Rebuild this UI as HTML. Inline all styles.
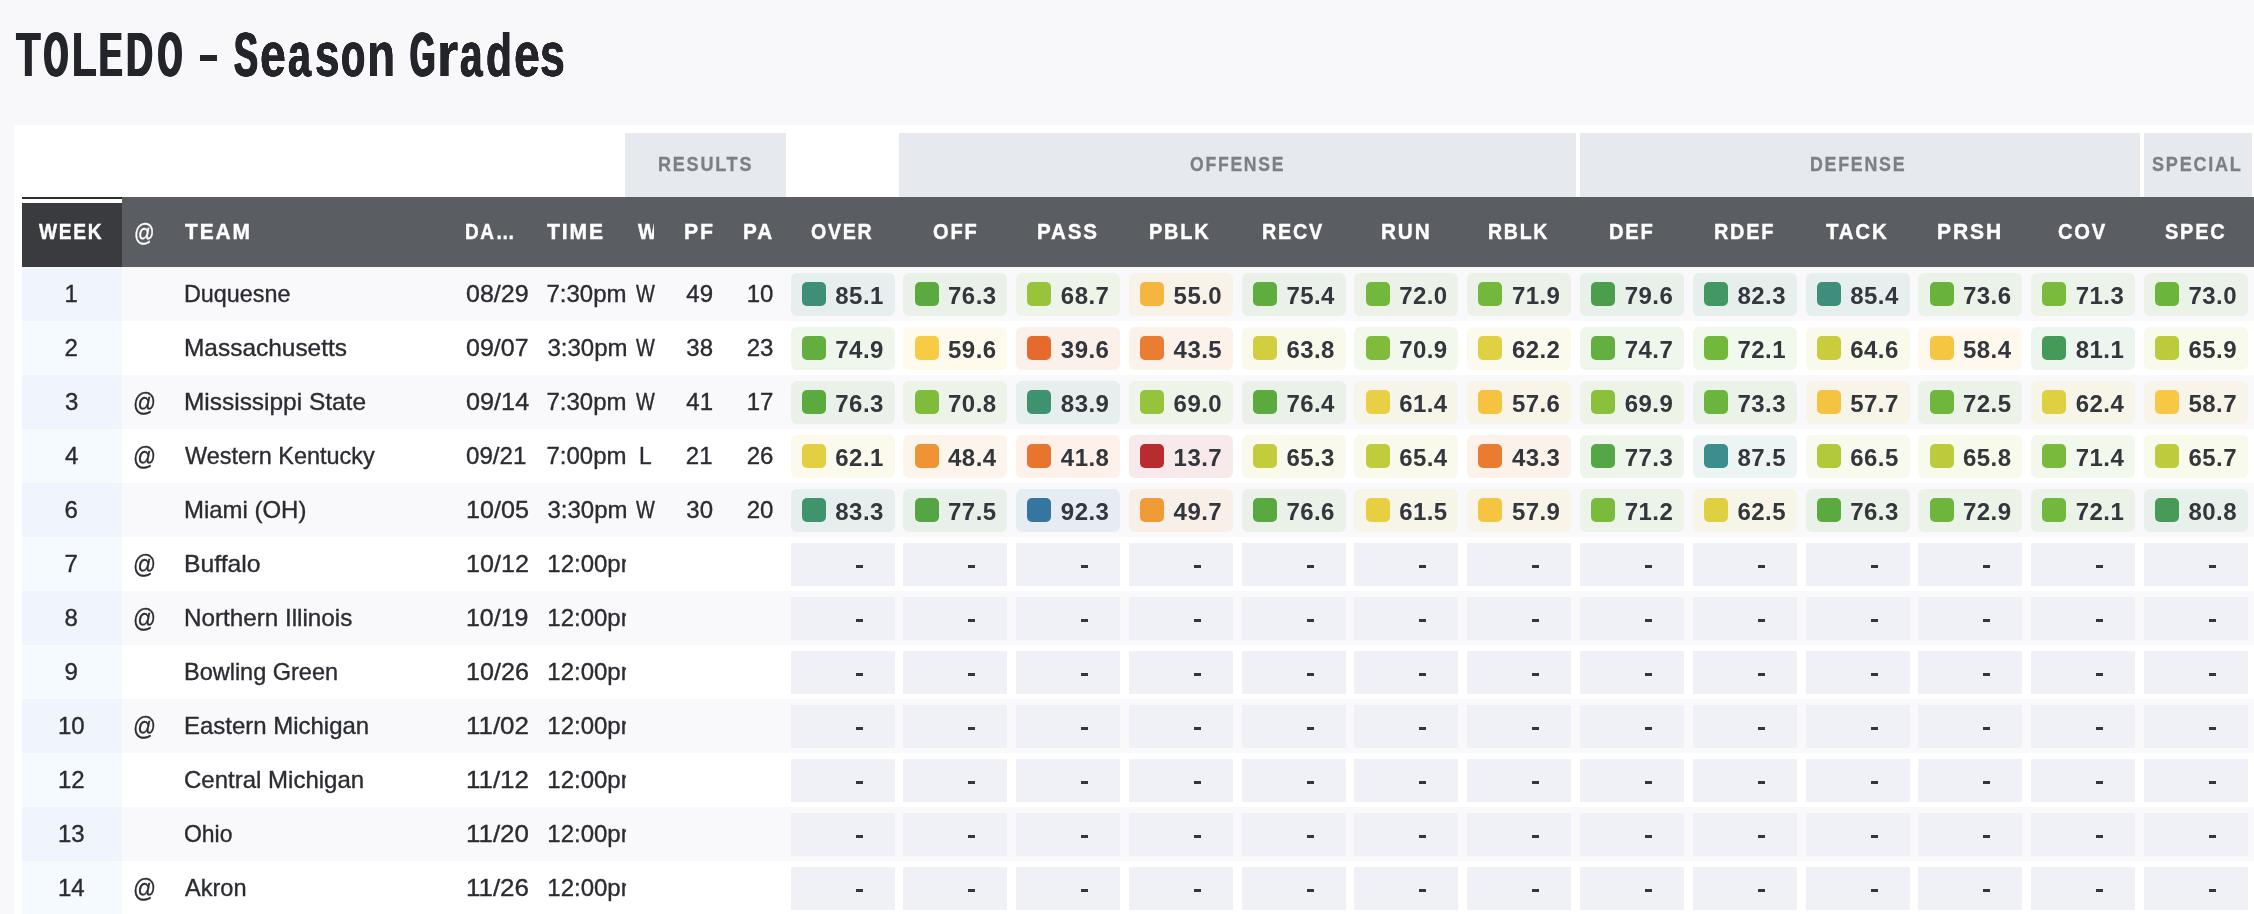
<!DOCTYPE html>
<html lang="en">
<head>
<meta charset="utf-8">
<title>TOLEDO - Season Grades</title>
<style>
*{box-sizing:border-box;margin:0;padding:0}
html,body{background:#f8f8fb}
body{position:relative;width:2254px;height:914px;font-family:"Liberation Sans", sans-serif;color:#2a2c31}
div,i,span{position:absolute}
#root{left:0;top:0;width:2254px;height:914px;overflow:hidden;background:#f8f8fb;will-change:transform}
.x{white-space:nowrap;transform-origin:0 0}
#title{position:absolute;left:0;top:14px;width:600px;height:80px;font-size:63px;line-height:80px;font-weight:bold;color:#23252b;white-space:nowrap}
.ttl{top:0;height:80px;transform-origin:0 77.7%}
.dash{left:199.8px;top:40.5px;width:17.1px;height:6.4px;background:#23252b;color:transparent;font-size:1px;line-height:1px;overflow:hidden}
#panel{left:14px;top:125px;width:2240px;height:789px;background:#fff}
.grp{top:133px;height:64px;background:#e6e9ee}
.gt{height:64px;line-height:64px;color:#7b8087;font-weight:bold;font-size:20.4px;letter-spacing:2px;-webkit-text-stroke:0.3px #7b8087}
#hdr{left:22px;top:197px;width:2232px;height:70px;background:#5a5d62}
.h{height:70px;line-height:70px;color:#fff;font-weight:bold;font-size:22.6px;letter-spacing:2px;-webkit-text-stroke:0.4px #fff}
.ha{height:70px;line-height:74px;color:#fff;font-size:23.5px;-webkit-text-stroke:0.3px #fff}
.row{left:22px;width:2232px;height:54px}
.wk{left:0;top:0;width:100px;height:54px}
.t{height:54px;line-height:54px;font-size:24px;-webkit-text-stroke:0.35px #2a2c31}
.a{height:54px;line-height:55px;font-size:26px;-webkit-text-stroke:0.3px #2a2c31}
.g{top:6px;width:104px;height:43px;border-radius:6px}
.e{top:6px;width:104px;height:43px;background:#f0f1f6}
.s{top:9px;width:24px;height:24px;border-radius:5px}
.n{top:0;height:43px;line-height:45px;font-size:24px;font-weight:bold;letter-spacing:0.45px;color:#33363c}
.d{top:22px;width:7px;height:3px;background:#33363c;color:transparent;font-size:1px;line-height:1px;overflow:hidden}
</style>
</head>
<body>
<div id="root">
<h1 id="title"><span class="ttl" style="left:16.34px;transform:scale(0.6376,1);text-shadow:0.84px 0 0 #23252b,-0.84px 0 0 #23252b,0.42px 0 0 #23252b,-0.42px 0 0 #23252b">T</span><span class="ttl" style="left:43.94px;transform:scale(0.4902,1);text-shadow:2.49px 0 0 #23252b,-2.49px 0 0 #23252b,1.25px 0 0 #23252b,-1.25px 0 0 #23252b">O</span><span class="ttl" style="left:72.25px;transform:scale(0.6414,1);text-shadow:0.81px 0 0 #23252b,-0.81px 0 0 #23252b,0.40px 0 0 #23252b,-0.40px 0 0 #23252b">L</span><span class="ttl" style="left:99.47px;transform:scale(0.5581,1);text-shadow:1.62px 0 0 #23252b,-1.62px 0 0 #23252b,0.81px 0 0 #23252b,-0.81px 0 0 #23252b">E</span><span class="ttl" style="left:126.44px;transform:scale(0.5960,1);text-shadow:1.22px 0 0 #23252b,-1.22px 0 0 #23252b,0.61px 0 0 #23252b,-0.61px 0 0 #23252b">D</span><span class="ttl" style="left:157.94px;transform:scale(0.4902,1);text-shadow:2.49px 0 0 #23252b,-2.49px 0 0 #23252b,1.25px 0 0 #23252b,-1.25px 0 0 #23252b">O</span> <span class="dash">-</span> <span class="ttl" style="left:234.09px;transform:scale(0.5690,1);text-shadow:1.50px 0 0 #23252b,-1.50px 0 0 #23252b,0.75px 0 0 #23252b,-0.75px 0 0 #23252b">S</span><span class="ttl" style="left:259.70px;transform:scale(0.7373,1);text-shadow:0.10px 0 0 #23252b,-0.10px 0 0 #23252b,0.05px 0 0 #23252b,-0.05px 0 0 #23252b">e</span><span class="ttl" style="left:287.51px;transform:scale(0.6537,1);text-shadow:0.70px 0 0 #23252b,-0.70px 0 0 #23252b,0.35px 0 0 #23252b,-0.35px 0 0 #23252b">a</span><span class="ttl" style="left:314.77px;transform:scale(0.6959,1);text-shadow:0.38px 0 0 #23252b,-0.38px 0 0 #23252b,0.19px 0 0 #23252b,-0.19px 0 0 #23252b">s</span><span class="ttl" style="left:341.31px;transform:scale(0.6304,1);text-shadow:0.90px 0 0 #23252b,-0.90px 0 0 #23252b,0.45px 0 0 #23252b,-0.45px 0 0 #23252b">o</span><span class="ttl" style="left:367.10px;transform:scale(0.7281,1);text-shadow:0.16px 0 0 #23252b,-0.16px 0 0 #23252b,0.08px 0 0 #23252b,-0.08px 0 0 #23252b">n</span> <span class="ttl" style="left:410.27px;transform:scale(0.5159,1);text-shadow:2.13px 0 0 #23252b,-2.13px 0 0 #23252b,1.07px 0 0 #23252b,-1.07px 0 0 #23252b">G</span><span class="ttl" style="left:437.46px;transform:scale(0.8598,1);text-shadow:0.00px 0 0 #23252b,-0.00px 0 0 #23252b,0.00px 0 0 #23252b,-0.00px 0 0 #23252b">r</span><span class="ttl" style="left:459.57px;transform:scale(0.6420,1);text-shadow:0.80px 0 0 #23252b,-0.80px 0 0 #23252b,0.40px 0 0 #23252b,-0.40px 0 0 #23252b">a</span><span class="ttl" style="left:486.01px;transform:scale(0.6751,0.975);text-shadow:0.53px 0 0 #23252b,-0.53px 0 0 #23252b,0.27px 0 0 #23252b,-0.27px 0 0 #23252b">d</span><span class="ttl" style="left:513.60px;transform:scale(0.7373,1);text-shadow:0.10px 0 0 #23252b,-0.10px 0 0 #23252b,0.05px 0 0 #23252b,-0.05px 0 0 #23252b">e</span><span class="ttl" style="left:540.48px;transform:scale(0.7097,1);text-shadow:0.28px 0 0 #23252b,-0.28px 0 0 #23252b,0.14px 0 0 #23252b,-0.14px 0 0 #23252b">s</span></h1>
<div id="panel"></div>
<div class="grp" style="left:625px;width:161px"></div>
<div class="x gt" style="left:658.12px;top:132px;transform:scale(0.88420,1.0);">RESULTS</div>
<div class="grp" style="left:899px;width:677px"></div>
<div class="x gt" style="left:1190.20px;top:132px;transform:scale(0.86353,1.0);">OFFENSE</div>
<div class="grp" style="left:1580px;width:560px"></div>
<div class="x gt" style="left:1809.73px;top:132px;transform:scale(0.87342,1.0);">DEFENSE</div>
<div class="grp" style="left:2144px;width:108px"></div>
<div class="x gt" style="left:2151.70px;top:132px;transform:scale(0.88573,1.0);">SPECIAL</div>
<div id="hdr"></div>
<div style="left:22px;top:197px;width:100px;height:70px;background:#3a3b3f"></div>
<div style="left:22px;top:197px;width:100px;height:2px;background:#2c2d31"></div>
<div style="left:22px;top:199px;width:100px;height:4px;background:#fff"></div>
<div class="x h" style="left:39.20px;top:196.6px;transform:scale(0.85007,1.0);">WEEK</div>
<div class="x h" style="left:184.70px;top:196.6px;transform:scale(0.92791,1.0);">TEAM</div>
<div class="x h" style="left:547.30px;top:196.6px;transform:scale(0.93323,1.0);">TIME</div>
<div class="x h" style="left:683.76px;top:196.6px;transform:scale(0.93912,1.0);">PF</div>
<div class="x h" style="left:743.38px;top:196.6px;transform:scale(0.91799,1.0);">PA</div>
<div class="x h" style="left:465.16px;top:196.6px;transform:scale(0.83873,1.0);">DA&hellip;</div>
<div class="x ha" style="left:134.14px;top:196.0px;transform:scale(0.86190,1.0);">@</div>
<div style="left:637px;top:197px;width:16.7px;height:70px;overflow:hidden"><div class="x h" style="left:0.70px;top:-0.4px;transform:scale(0.89000,1.0)">W</div></div>
<div class="x h" style="left:811.35px;top:196.6px;transform:scale(0.86783,1.0);">OVER</div>
<div class="x h" style="left:932.87px;top:196.6px;transform:scale(0.88888,1.0);">OFF</div>
<div class="x h" style="left:1036.73px;top:196.6px;transform:scale(0.91079,1.0);">PASS</div>
<div class="x h" style="left:1149.37px;top:196.6px;transform:scale(0.88260,1.0);">PBLK</div>
<div class="x h" style="left:1262.15px;top:196.6px;transform:scale(0.87589,1.0);">RECV</div>
<div class="x h" style="left:1381.22px;top:196.6px;transform:scale(0.92035,1.0);">RUN</div>
<div class="x h" style="left:1487.75px;top:196.6px;transform:scale(0.86507,1.0);">RBLK</div>
<div class="x h" style="left:1608.94px;top:196.6px;transform:scale(0.89266,1.0);">DEF</div>
<div class="x h" style="left:1713.97px;top:196.6px;transform:scale(0.87972,1.0);">RDEF</div>
<div class="x h" style="left:1825.87px;top:196.6px;transform:scale(0.90471,1.0);">TACK</div>
<div class="x h" style="left:1937.36px;top:196.6px;transform:scale(0.93295,1.0);">PRSH</div>
<div class="x h" style="left:2058.46px;top:196.6px;transform:scale(0.89241,1.0);">COV</div>
<div class="x h" style="left:2165.08px;top:196.6px;transform:scale(0.88529,1.0);">SPEC</div>
<div class="row" style="top:267px;background:#f9f9fb">
<div class="wk" style="background:#eff4fd"></div>
<div class="x t" style="left:42.60px;top:0px;transform:scale(1.00000,1.0);">1</div>
<div class="x t" style="left:162.03px;top:0px;transform:scale(0.97252,1.0);">Duquesne</div>
<div class="x t" style="left:444.20px;top:0px;transform:scale(1.04169,1.0);">08/29</div>
<div style="left:518px;top:0;width:85.7px;height:54px;overflow:hidden"><div class="x t" style="left:6.50px;top:0;transform:scale(1.0,1.0)">7:30pm</div></div>
<div class="x t" style="left:613.70px;top:0px;transform:scale(0.83043,1.0);">W</div>
<div class="x t" style="left:664.33px;top:0px;transform:scale(1.00000,1.0);">49</div>
<div class="x t" style="left:724.65px;top:0px;transform:scale(1.00000,1.0);">10</div>
<div class="g" style="left:769px;background:#e6eeee"><i class="s" style="left:11px;background:#3e8e78"></i><span class="x n" style="left:44.30px;transform:scale(1.0)">85.1</span></div>
<div class="g" style="left:881px;background:#e9f1e8"><i class="s" style="left:12px;background:#5aaa40"></i><span class="x n" style="left:45.07px;transform:scale(1.0)">76.3</span></div>
<div class="g" style="left:994px;background:#eff4e8"><i class="s" style="left:11px;background:#98c43c"></i><span class="x n" style="left:44.84px;transform:scale(1.0)">68.7</span></div>
<div class="g" style="left:1107px;background:#f8f2e8"><i class="s" style="left:11px;background:#f4b63e"></i><span class="x n" style="left:44.61px;transform:scale(1.0)">55.0</span></div>
<div class="g" style="left:1220px;background:#eaf1e8"><i class="s" style="left:11px;background:#5fad3f"></i><span class="x n" style="left:44.38px;transform:scale(1.0)">75.4</span></div>
<div class="g" style="left:1332px;background:#ecf2e8"><i class="s" style="left:12px;background:#72b83c"></i><span class="x n" style="left:45.15px;transform:scale(1.0)">72.0</span></div>
<div class="g" style="left:1445px;background:#ecf2e8"><i class="s" style="left:11px;background:#73b83c"></i><span class="x n" style="left:44.91px;transform:scale(1.0)">71.9</span></div>
<div class="g" style="left:1558px;background:#e8f0ea"><i class="s" style="left:11px;background:#4a9e4c"></i><span class="x n" style="left:44.68px;transform:scale(1.0)">79.6</span></div>
<div class="g" style="left:1671px;background:#e7efec"><i class="s" style="left:11px;background:#439763"></i><span class="x n" style="left:44.45px;transform:scale(1.0)">82.3</span></div>
<div class="g" style="left:1784px;background:#e6eeee"><i class="s" style="left:11px;background:#3e8e7b"></i><span class="x n" style="left:44.22px;transform:scale(1.0)">85.4</span></div>
<div class="g" style="left:1896px;background:#ebf2e8"><i class="s" style="left:12px;background:#69b33d"></i><span class="x n" style="left:44.99px;transform:scale(1.0)">73.6</span></div>
<div class="g" style="left:2009px;background:#ecf3e8"><i class="s" style="left:11px;background:#7abb3c"></i><span class="x n" style="left:44.76px;transform:scale(1.0)">71.3</span></div>
<div class="g" style="left:2122px;background:#ebf2e8"><i class="s" style="left:11px;background:#6cb53d"></i><span class="x n" style="left:44.53px;transform:scale(1.0)">73.0</span></div>
</div>
<div class="row" style="top:321px;background:#ffffff">
<div class="wk" style="background:#f5fafe"></div>
<div class="x t" style="left:42.60px;top:0px;transform:scale(1.00000,1.0);">2</div>
<div class="x t" style="left:161.98px;top:0px;transform:scale(1.01844,1.0);">Massachusetts</div>
<div class="x t" style="left:444.20px;top:0px;transform:scale(1.04169,1.0);">09/07</div>
<div style="left:518px;top:0;width:85.7px;height:54px;overflow:hidden"><div class="x t" style="left:7.50px;top:0;transform:scale(1.0,1.0)">3:30pm</div></div>
<div class="x t" style="left:613.70px;top:0px;transform:scale(0.83043,1.0);">W</div>
<div class="x t" style="left:664.33px;top:0px;transform:scale(1.00000,1.0);">38</div>
<div class="x t" style="left:724.65px;top:0px;transform:scale(1.00000,1.0);">23</div>
<div class="g" style="left:769px;background:#eff7ec"><i class="s" style="left:11px;background:#62af3f"></i><span class="x n" style="left:44.30px;transform:scale(1.0)">74.9</span></div>
<div class="g" style="left:881px;background:#fefaec"><i class="s" style="left:12px;background:#f6cc44"></i><span class="x n" style="left:45.07px;transform:scale(1.0)">59.6</span></div>
<div class="g" style="left:994px;background:#fcf0ea"><i class="s" style="left:11px;background:#e66a2c"></i><span class="x n" style="left:44.84px;transform:scale(1.0)">39.6</span></div>
<div class="g" style="left:1107px;background:#fdf2ea"><i class="s" style="left:11px;background:#ea7d32"></i><span class="x n" style="left:44.61px;transform:scale(1.0)">43.5</span></div>
<div class="g" style="left:1220px;background:#fafaec"><i class="s" style="left:11px;background:#d1ce3f"></i><span class="x n" style="left:44.38px;transform:scale(1.0)">63.8</span></div>
<div class="g" style="left:1332px;background:#f2f8ec"><i class="s" style="left:12px;background:#7fbc3c"></i><span class="x n" style="left:45.15px;transform:scale(1.0)">70.9</span></div>
<div class="g" style="left:1445px;background:#fcfaec"><i class="s" style="left:11px;background:#e1d042"></i><span class="x n" style="left:44.91px;transform:scale(1.0)">62.2</span></div>
<div class="g" style="left:1558px;background:#eff7ec"><i class="s" style="left:11px;background:#63af3f"></i><span class="x n" style="left:44.68px;transform:scale(1.0)">74.7</span></div>
<div class="g" style="left:1671px;background:#f1f8ec"><i class="s" style="left:11px;background:#71b83c"></i><span class="x n" style="left:44.45px;transform:scale(1.0)">72.1</span></div>
<div class="g" style="left:1784px;background:#fafaec"><i class="s" style="left:11px;background:#c9cd3d"></i><span class="x n" style="left:44.22px;transform:scale(1.0)">64.6</span></div>
<div class="g" style="left:1896px;background:#fef9ec"><i class="s" style="left:12px;background:#f5c642"></i><span class="x n" style="left:44.99px;transform:scale(1.0)">58.4</span></div>
<div class="g" style="left:2009px;background:#ecf5ee"><i class="s" style="left:11px;background:#469a59"></i><span class="x n" style="left:44.76px;transform:scale(1.0)">81.1</span></div>
<div class="g" style="left:2122px;background:#f8faec"><i class="s" style="left:11px;background:#bbcb3c"></i><span class="x n" style="left:44.53px;transform:scale(1.0)">65.9</span></div>
</div>
<div class="row" style="top:375px;background:#f9f9fb">
<div class="wk" style="background:#eff4fd"></div>
<div class="x t" style="left:43.10px;top:0px;transform:scale(1.00000,1.0);">3</div>
<div class="x a" style="left:111.15px;top:0px;transform:scale(0.87391,1.0);">@</div>
<div class="x t" style="left:161.98px;top:0px;transform:scale(1.01818,1.0);">Mississippi State</div>
<div class="x t" style="left:444.20px;top:0px;transform:scale(1.05173,1.0);">09/14</div>
<div style="left:518px;top:0;width:85.7px;height:54px;overflow:hidden"><div class="x t" style="left:6.50px;top:0;transform:scale(1.0,1.0)">7:30pm</div></div>
<div class="x t" style="left:613.70px;top:0px;transform:scale(0.83043,1.0);">W</div>
<div class="x t" style="left:664.33px;top:0px;transform:scale(1.00000,1.0);">41</div>
<div class="x t" style="left:724.65px;top:0px;transform:scale(1.00000,1.0);">17</div>
<div class="g" style="left:769px;background:#e9f1e8"><i class="s" style="left:11px;background:#5aaa40"></i><span class="x n" style="left:44.30px;transform:scale(1.0)">76.3</span></div>
<div class="g" style="left:881px;background:#edf3e8"><i class="s" style="left:12px;background:#80bc3c"></i><span class="x n" style="left:45.07px;transform:scale(1.0)">70.8</span></div>
<div class="g" style="left:994px;background:#e6efed"><i class="s" style="left:11px;background:#3f9270"></i><span class="x n" style="left:44.84px;transform:scale(1.0)">83.9</span></div>
<div class="g" style="left:1107px;background:#eff4e8"><i class="s" style="left:11px;background:#95c33c"></i><span class="x n" style="left:44.61px;transform:scale(1.0)">69.0</span></div>
<div class="g" style="left:1220px;background:#e9f1e8"><i class="s" style="left:11px;background:#5aaa40"></i><span class="x n" style="left:44.38px;transform:scale(1.0)">76.4</span></div>
<div class="g" style="left:1332px;background:#f7f5e9"><i class="s" style="left:12px;background:#e8cf43"></i><span class="x n" style="left:45.15px;transform:scale(1.0)">61.4</span></div>
<div class="g" style="left:1445px;background:#f9f4e8"><i class="s" style="left:11px;background:#f5c241"></i><span class="x n" style="left:44.91px;transform:scale(1.0)">57.6</span></div>
<div class="g" style="left:1558px;background:#eef3e8"><i class="s" style="left:11px;background:#8ac03c"></i><span class="x n" style="left:44.68px;transform:scale(1.0)">69.9</span></div>
<div class="g" style="left:1671px;background:#ebf2e8"><i class="s" style="left:11px;background:#6bb43d"></i><span class="x n" style="left:44.45px;transform:scale(1.0)">73.3</span></div>
<div class="g" style="left:1784px;background:#f9f4e8"><i class="s" style="left:11px;background:#f5c342"></i><span class="x n" style="left:44.22px;transform:scale(1.0)">57.7</span></div>
<div class="g" style="left:1896px;background:#ebf2e8"><i class="s" style="left:12px;background:#6fb63c"></i><span class="x n" style="left:44.99px;transform:scale(1.0)">72.5</span></div>
<div class="g" style="left:2009px;background:#f6f5e8"><i class="s" style="left:11px;background:#dfd041"></i><span class="x n" style="left:44.76px;transform:scale(1.0)">62.4</span></div>
<div class="g" style="left:2122px;background:#f9f4e9"><i class="s" style="left:11px;background:#f6c843"></i><span class="x n" style="left:44.53px;transform:scale(1.0)">58.7</span></div>
</div>
<div class="row" style="top:429px;background:#ffffff">
<div class="wk" style="background:#f5fafe"></div>
<div class="x t" style="left:43.10px;top:0px;transform:scale(1.00000,1.0);">4</div>
<div class="x a" style="left:111.15px;top:0px;transform:scale(0.87391,1.0);">@</div>
<div class="x t" style="left:163.00px;top:0px;transform:scale(0.97628,1.0);">Western Kentucky</div>
<div class="x t" style="left:444.20px;top:0px;transform:scale(1.00484,1.0);">09/21</div>
<div style="left:518px;top:0;width:85.7px;height:54px;overflow:hidden"><div class="x t" style="left:6.50px;top:0;transform:scale(1.0,1.0)">7:00pm</div></div>
<div class="x t" style="left:616.65px;top:0px;transform:scale(0.95000,1.0);">L</div>
<div class="x t" style="left:663.83px;top:0px;transform:scale(1.00000,1.0);">21</div>
<div class="x t" style="left:724.65px;top:0px;transform:scale(1.00000,1.0);">26</div>
<div class="g" style="left:769px;background:#fcfaec"><i class="s" style="left:11px;background:#e2d042"></i><span class="x n" style="left:44.30px;transform:scale(1.0)">62.1</span></div>
<div class="g" style="left:881px;background:#fdf4eb"><i class="s" style="left:12px;background:#ee9436"></i><span class="x n" style="left:45.07px;transform:scale(1.0)">48.4</span></div>
<div class="g" style="left:994px;background:#fdf1ea"><i class="s" style="left:11px;background:#e8752f"></i><span class="x n" style="left:44.84px;transform:scale(1.0)">41.8</span></div>
<div class="g" style="left:1107px;background:#f8eaea"><i class="s" style="left:11px;background:#b82c30"></i><span class="x n" style="left:44.61px;transform:scale(1.0)">13.7</span></div>
<div class="g" style="left:1220px;background:#f9faec"><i class="s" style="left:11px;background:#c2cc3c"></i><span class="x n" style="left:44.38px;transform:scale(1.0)">65.3</span></div>
<div class="g" style="left:1332px;background:#f9faec"><i class="s" style="left:12px;background:#c1cc3c"></i><span class="x n" style="left:45.15px;transform:scale(1.0)">65.4</span></div>
<div class="g" style="left:1445px;background:#fdf2ea"><i class="s" style="left:11px;background:#ea7c32"></i><span class="x n" style="left:44.91px;transform:scale(1.0)">43.3</span></div>
<div class="g" style="left:1558px;background:#eef6ec"><i class="s" style="left:11px;background:#55a644"></i><span class="x n" style="left:44.68px;transform:scale(1.0)">77.3</span></div>
<div class="g" style="left:1671px;background:#ecf4f4"><i class="s" style="left:11px;background:#3c8e8c"></i><span class="x n" style="left:44.45px;transform:scale(1.0)">87.5</span></div>
<div class="g" style="left:1784px;background:#f7faec"><i class="s" style="left:11px;background:#b3c93c"></i><span class="x n" style="left:44.22px;transform:scale(1.0)">66.5</span></div>
<div class="g" style="left:1896px;background:#f8faec"><i class="s" style="left:12px;background:#bccb3c"></i><span class="x n" style="left:44.99px;transform:scale(1.0)">65.8</span></div>
<div class="g" style="left:2009px;background:#f2f8ec"><i class="s" style="left:11px;background:#79ba3c"></i><span class="x n" style="left:44.76px;transform:scale(1.0)">71.4</span></div>
<div class="g" style="left:2122px;background:#f8faec"><i class="s" style="left:11px;background:#bdcb3c"></i><span class="x n" style="left:44.53px;transform:scale(1.0)">65.7</span></div>
</div>
<div class="row" style="top:483px;background:#f9f9fb">
<div class="wk" style="background:#eff4fd"></div>
<div class="x t" style="left:42.60px;top:0px;transform:scale(1.00000,1.0);">6</div>
<div class="x t" style="left:162.00px;top:0px;transform:scale(0.99788,1.0);">Miami (OH)</div>
<div class="x t" style="left:444.45px;top:0px;transform:scale(1.04750,1.0);">10/05</div>
<div style="left:518px;top:0;width:85.7px;height:54px;overflow:hidden"><div class="x t" style="left:7.50px;top:0;transform:scale(1.0,1.0)">3:30pm</div></div>
<div class="x t" style="left:613.70px;top:0px;transform:scale(0.83043,1.0);">W</div>
<div class="x t" style="left:664.33px;top:0px;transform:scale(1.00000,1.0);">30</div>
<div class="x t" style="left:724.65px;top:0px;transform:scale(1.00000,1.0);">20</div>
<div class="g" style="left:769px;background:#e6efed"><i class="s" style="left:11px;background:#40946c"></i><span class="x n" style="left:44.30px;transform:scale(1.0)">83.3</span></div>
<div class="g" style="left:881px;background:#e8f1e9"><i class="s" style="left:12px;background:#54a644"></i><span class="x n" style="left:45.07px;transform:scale(1.0)">77.5</span></div>
<div class="g" style="left:994px;background:#e5ecf2"><i class="s" style="left:11px;background:#3476a0"></i><span class="x n" style="left:44.84px;transform:scale(1.0)">92.3</span></div>
<div class="g" style="left:1107px;background:#f8f0e8"><i class="s" style="left:11px;background:#ef9b38"></i><span class="x n" style="left:44.61px;transform:scale(1.0)">49.7</span></div>
<div class="g" style="left:1220px;background:#e9f1e8"><i class="s" style="left:11px;background:#59a941"></i><span class="x n" style="left:44.38px;transform:scale(1.0)">76.6</span></div>
<div class="g" style="left:1332px;background:#f7f5e8"><i class="s" style="left:12px;background:#e7cf42"></i><span class="x n" style="left:45.15px;transform:scale(1.0)">61.5</span></div>
<div class="g" style="left:1445px;background:#f9f4e8"><i class="s" style="left:11px;background:#f5c442"></i><span class="x n" style="left:44.91px;transform:scale(1.0)">57.9</span></div>
<div class="g" style="left:1558px;background:#ecf3e8"><i class="s" style="left:11px;background:#7bbb3c"></i><span class="x n" style="left:44.68px;transform:scale(1.0)">71.2</span></div>
<div class="g" style="left:1671px;background:#f6f5e8"><i class="s" style="left:11px;background:#ded041"></i><span class="x n" style="left:44.45px;transform:scale(1.0)">62.5</span></div>
<div class="g" style="left:1784px;background:#e9f1e8"><i class="s" style="left:11px;background:#5aaa40"></i><span class="x n" style="left:44.22px;transform:scale(1.0)">76.3</span></div>
<div class="g" style="left:1896px;background:#ebf2e8"><i class="s" style="left:12px;background:#6db53d"></i><span class="x n" style="left:44.99px;transform:scale(1.0)">72.9</span></div>
<div class="g" style="left:2009px;background:#ebf2e8"><i class="s" style="left:11px;background:#71b83c"></i><span class="x n" style="left:44.76px;transform:scale(1.0)">72.1</span></div>
<div class="g" style="left:2122px;background:#e7f0ea"><i class="s" style="left:11px;background:#479b56"></i><span class="x n" style="left:44.53px;transform:scale(1.0)">80.8</span></div>
</div>
<div class="row" style="top:537px;background:#ffffff">
<div class="wk" style="background:#f5fafe"></div>
<div class="x t" style="left:42.60px;top:0px;transform:scale(1.00000,1.0);">7</div>
<div class="x a" style="left:111.15px;top:0px;transform:scale(0.87391,1.0);">@</div>
<div class="x t" style="left:161.97px;top:0px;transform:scale(1.02965,1.0);">Buffalo</div>
<div class="x t" style="left:444.45px;top:0px;transform:scale(1.04750,1.0);">10/12</div>
<div style="left:518px;top:0;width:85.7px;height:54px;overflow:hidden"><div class="x t" style="left:7.30px;top:0;transform:scale(1.0,1.0)">12:00pm</div></div>
<div class="e" style="left:769px"><i class="d" style="left:64.60px">-</i></div>
<div class="e" style="left:881px"><i class="d" style="left:65.37px">-</i></div>
<div class="e" style="left:994px"><i class="d" style="left:65.14px">-</i></div>
<div class="e" style="left:1107px"><i class="d" style="left:64.91px">-</i></div>
<div class="e" style="left:1220px"><i class="d" style="left:64.68px">-</i></div>
<div class="e" style="left:1332px"><i class="d" style="left:65.45px">-</i></div>
<div class="e" style="left:1445px"><i class="d" style="left:65.21px">-</i></div>
<div class="e" style="left:1558px"><i class="d" style="left:64.98px">-</i></div>
<div class="e" style="left:1671px"><i class="d" style="left:64.75px">-</i></div>
<div class="e" style="left:1784px"><i class="d" style="left:64.52px">-</i></div>
<div class="e" style="left:1896px"><i class="d" style="left:65.29px">-</i></div>
<div class="e" style="left:2009px"><i class="d" style="left:65.06px">-</i></div>
<div class="e" style="left:2122px"><i class="d" style="left:64.83px">-</i></div>
</div>
<div class="row" style="top:591px;background:#f9f9fb">
<div class="wk" style="background:#eff4fd"></div>
<div class="x t" style="left:42.60px;top:0px;transform:scale(1.00000,1.0);">8</div>
<div class="x a" style="left:111.15px;top:0px;transform:scale(0.87391,1.0);">@</div>
<div class="x t" style="left:161.99px;top:0px;transform:scale(1.00945,1.0);">Northern Illinois</div>
<div class="x t" style="left:444.46px;top:0px;transform:scale(1.03899,1.0);">10/19</div>
<div style="left:518px;top:0;width:85.7px;height:54px;overflow:hidden"><div class="x t" style="left:7.30px;top:0;transform:scale(1.0,1.0)">12:00pm</div></div>
<div class="e" style="left:769px"><i class="d" style="left:64.60px">-</i></div>
<div class="e" style="left:881px"><i class="d" style="left:65.37px">-</i></div>
<div class="e" style="left:994px"><i class="d" style="left:65.14px">-</i></div>
<div class="e" style="left:1107px"><i class="d" style="left:64.91px">-</i></div>
<div class="e" style="left:1220px"><i class="d" style="left:64.68px">-</i></div>
<div class="e" style="left:1332px"><i class="d" style="left:65.45px">-</i></div>
<div class="e" style="left:1445px"><i class="d" style="left:65.21px">-</i></div>
<div class="e" style="left:1558px"><i class="d" style="left:64.98px">-</i></div>
<div class="e" style="left:1671px"><i class="d" style="left:64.75px">-</i></div>
<div class="e" style="left:1784px"><i class="d" style="left:64.52px">-</i></div>
<div class="e" style="left:1896px"><i class="d" style="left:65.29px">-</i></div>
<div class="e" style="left:2009px"><i class="d" style="left:65.06px">-</i></div>
<div class="e" style="left:2122px"><i class="d" style="left:64.83px">-</i></div>
</div>
<div class="row" style="top:645px;background:#ffffff">
<div class="wk" style="background:#f5fafe"></div>
<div class="x t" style="left:42.60px;top:0px;transform:scale(1.00000,1.0);">9</div>
<div class="x t" style="left:162.02px;top:0px;transform:scale(0.97827,1.0);">Bowling Green</div>
<div class="x t" style="left:444.45px;top:0px;transform:scale(1.04750,1.0);">10/26</div>
<div style="left:518px;top:0;width:85.7px;height:54px;overflow:hidden"><div class="x t" style="left:7.30px;top:0;transform:scale(1.0,1.0)">12:00pm</div></div>
<div class="e" style="left:769px"><i class="d" style="left:64.60px">-</i></div>
<div class="e" style="left:881px"><i class="d" style="left:65.37px">-</i></div>
<div class="e" style="left:994px"><i class="d" style="left:65.14px">-</i></div>
<div class="e" style="left:1107px"><i class="d" style="left:64.91px">-</i></div>
<div class="e" style="left:1220px"><i class="d" style="left:64.68px">-</i></div>
<div class="e" style="left:1332px"><i class="d" style="left:65.45px">-</i></div>
<div class="e" style="left:1445px"><i class="d" style="left:65.21px">-</i></div>
<div class="e" style="left:1558px"><i class="d" style="left:64.98px">-</i></div>
<div class="e" style="left:1671px"><i class="d" style="left:64.75px">-</i></div>
<div class="e" style="left:1784px"><i class="d" style="left:64.52px">-</i></div>
<div class="e" style="left:1896px"><i class="d" style="left:65.29px">-</i></div>
<div class="e" style="left:2009px"><i class="d" style="left:65.06px">-</i></div>
<div class="e" style="left:2122px"><i class="d" style="left:64.83px">-</i></div>
</div>
<div class="row" style="top:699px;background:#f9f9fb">
<div class="wk" style="background:#eff4fd"></div>
<div class="x t" style="left:35.93px;top:0px;transform:scale(1.00000,1.0);">10</div>
<div class="x a" style="left:111.15px;top:0px;transform:scale(0.87391,1.0);">@</div>
<div class="x t" style="left:162.00px;top:0px;transform:scale(0.99848,1.0);">Eastern Michigan</div>
<div class="x t" style="left:444.42px;top:0px;transform:scale(1.08028,1.0);">11/02</div>
<div style="left:518px;top:0;width:85.7px;height:54px;overflow:hidden"><div class="x t" style="left:7.30px;top:0;transform:scale(1.0,1.0)">12:00pm</div></div>
<div class="e" style="left:769px"><i class="d" style="left:64.60px">-</i></div>
<div class="e" style="left:881px"><i class="d" style="left:65.37px">-</i></div>
<div class="e" style="left:994px"><i class="d" style="left:65.14px">-</i></div>
<div class="e" style="left:1107px"><i class="d" style="left:64.91px">-</i></div>
<div class="e" style="left:1220px"><i class="d" style="left:64.68px">-</i></div>
<div class="e" style="left:1332px"><i class="d" style="left:65.45px">-</i></div>
<div class="e" style="left:1445px"><i class="d" style="left:65.21px">-</i></div>
<div class="e" style="left:1558px"><i class="d" style="left:64.98px">-</i></div>
<div class="e" style="left:1671px"><i class="d" style="left:64.75px">-</i></div>
<div class="e" style="left:1784px"><i class="d" style="left:64.52px">-</i></div>
<div class="e" style="left:1896px"><i class="d" style="left:65.29px">-</i></div>
<div class="e" style="left:2009px"><i class="d" style="left:65.06px">-</i></div>
<div class="e" style="left:2122px"><i class="d" style="left:64.83px">-</i></div>
</div>
<div class="row" style="top:753px;background:#ffffff">
<div class="wk" style="background:#f5fafe"></div>
<div class="x t" style="left:35.93px;top:0px;transform:scale(1.00000,1.0);">12</div>
<div class="x t" style="left:162.00px;top:0px;transform:scale(1.00037,1.0);">Central Michigan</div>
<div class="x t" style="left:444.42px;top:0px;transform:scale(1.08028,1.0);">11/12</div>
<div style="left:518px;top:0;width:85.7px;height:54px;overflow:hidden"><div class="x t" style="left:7.30px;top:0;transform:scale(1.0,1.0)">12:00pm</div></div>
<div class="e" style="left:769px"><i class="d" style="left:64.60px">-</i></div>
<div class="e" style="left:881px"><i class="d" style="left:65.37px">-</i></div>
<div class="e" style="left:994px"><i class="d" style="left:65.14px">-</i></div>
<div class="e" style="left:1107px"><i class="d" style="left:64.91px">-</i></div>
<div class="e" style="left:1220px"><i class="d" style="left:64.68px">-</i></div>
<div class="e" style="left:1332px"><i class="d" style="left:65.45px">-</i></div>
<div class="e" style="left:1445px"><i class="d" style="left:65.21px">-</i></div>
<div class="e" style="left:1558px"><i class="d" style="left:64.98px">-</i></div>
<div class="e" style="left:1671px"><i class="d" style="left:64.75px">-</i></div>
<div class="e" style="left:1784px"><i class="d" style="left:64.52px">-</i></div>
<div class="e" style="left:1896px"><i class="d" style="left:65.29px">-</i></div>
<div class="e" style="left:2009px"><i class="d" style="left:65.06px">-</i></div>
<div class="e" style="left:2122px"><i class="d" style="left:64.83px">-</i></div>
</div>
<div class="row" style="top:807px;background:#f9f9fb">
<div class="wk" style="background:#eff4fd"></div>
<div class="x t" style="left:35.93px;top:0px;transform:scale(1.00000,1.0);">13</div>
<div class="x t" style="left:162.04px;top:0px;transform:scale(0.95648,1.0);">Ohio</div>
<div class="x t" style="left:444.42px;top:0px;transform:scale(1.08028,1.0);">11/20</div>
<div style="left:518px;top:0;width:85.7px;height:54px;overflow:hidden"><div class="x t" style="left:7.30px;top:0;transform:scale(1.0,1.0)">12:00pm</div></div>
<div class="e" style="left:769px"><i class="d" style="left:64.60px">-</i></div>
<div class="e" style="left:881px"><i class="d" style="left:65.37px">-</i></div>
<div class="e" style="left:994px"><i class="d" style="left:65.14px">-</i></div>
<div class="e" style="left:1107px"><i class="d" style="left:64.91px">-</i></div>
<div class="e" style="left:1220px"><i class="d" style="left:64.68px">-</i></div>
<div class="e" style="left:1332px"><i class="d" style="left:65.45px">-</i></div>
<div class="e" style="left:1445px"><i class="d" style="left:65.21px">-</i></div>
<div class="e" style="left:1558px"><i class="d" style="left:64.98px">-</i></div>
<div class="e" style="left:1671px"><i class="d" style="left:64.75px">-</i></div>
<div class="e" style="left:1784px"><i class="d" style="left:64.52px">-</i></div>
<div class="e" style="left:1896px"><i class="d" style="left:65.29px">-</i></div>
<div class="e" style="left:2009px"><i class="d" style="left:65.06px">-</i></div>
<div class="e" style="left:2122px"><i class="d" style="left:64.83px">-</i></div>
</div>
<div class="row" style="top:861px;background:#ffffff">
<div class="wk" style="background:#f5fafe"></div>
<div class="x t" style="left:35.93px;top:0px;transform:scale(1.00000,1.0);">14</div>
<div class="x a" style="left:111.15px;top:0px;transform:scale(0.87391,1.0);">@</div>
<div class="x t" style="left:163.00px;top:0px;transform:scale(0.98129,1.0);">Akron</div>
<div class="x t" style="left:444.42px;top:0px;transform:scale(1.08028,1.0);">11/26</div>
<div style="left:518px;top:0;width:85.7px;height:54px;overflow:hidden"><div class="x t" style="left:7.30px;top:0;transform:scale(1.0,1.0)">12:00pm</div></div>
<div class="e" style="left:769px"><i class="d" style="left:64.60px">-</i></div>
<div class="e" style="left:881px"><i class="d" style="left:65.37px">-</i></div>
<div class="e" style="left:994px"><i class="d" style="left:65.14px">-</i></div>
<div class="e" style="left:1107px"><i class="d" style="left:64.91px">-</i></div>
<div class="e" style="left:1220px"><i class="d" style="left:64.68px">-</i></div>
<div class="e" style="left:1332px"><i class="d" style="left:65.45px">-</i></div>
<div class="e" style="left:1445px"><i class="d" style="left:65.21px">-</i></div>
<div class="e" style="left:1558px"><i class="d" style="left:64.98px">-</i></div>
<div class="e" style="left:1671px"><i class="d" style="left:64.75px">-</i></div>
<div class="e" style="left:1784px"><i class="d" style="left:64.52px">-</i></div>
<div class="e" style="left:1896px"><i class="d" style="left:65.29px">-</i></div>
<div class="e" style="left:2009px"><i class="d" style="left:65.06px">-</i></div>
<div class="e" style="left:2122px"><i class="d" style="left:64.83px">-</i></div>
</div>
</div>
</body>
</html>
